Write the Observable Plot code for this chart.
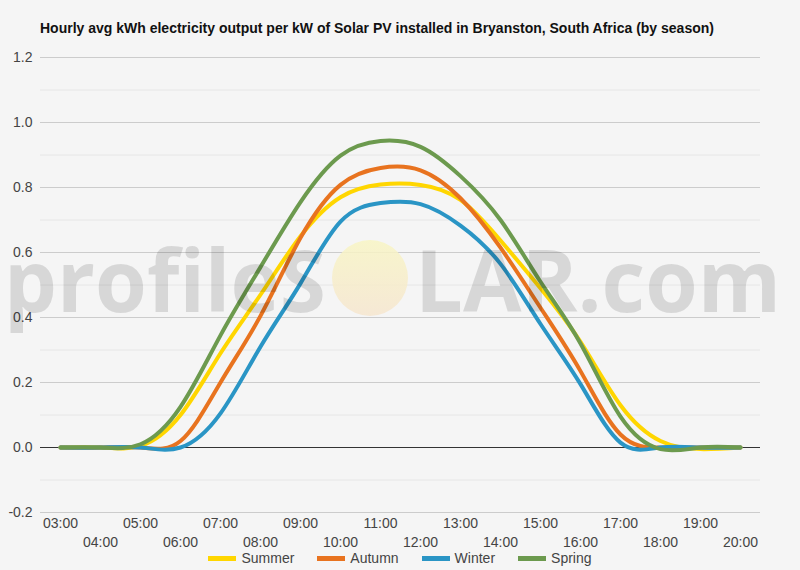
<!DOCTYPE html>
<html>
<head>
<meta charset="utf-8">
<script src="https://cdn.jsdelivr.net/npm/d3@7"></script>
<script src="https://cdn.jsdelivr.net/npm/@observablehq/plot@0.6"></script>
<style>
  html, body { margin: 0; padding: 0; background: #f5f5f5; }
  #wrap { position: relative; width: 800px; height: 570px; background: #f5f5f5; overflow: hidden; font-family: "Liberation Sans", Arial, sans-serif; }
  #title { position: absolute; left: 40px; top: 20px; font-size: 14px; line-height: 16px; font-weight: bold; color: #111; white-space: nowrap; }
  #legend { position: absolute; left: 0; width: 800px; top: 550px; display: flex; justify-content: center; gap: 23px; font-size: 14px; line-height: 16px; color: #444; }
  .item { display: flex; align-items: center; gap: 5px; }
  .sw { width: 28px; height: 5px; }
  #chart { position: absolute; left: 0; top: 0; }
  #wm { position: absolute; left: 0; top: 0; pointer-events: none; }
</style>
</head>
<body>
<div id="wrap">
  <div id="chart"></div>
  <svg id="wm" width="800" height="570"></svg>
  <div id="title"></div>
  <div id="legend"></div>
</div>
<script>
const titleText = "Hourly avg kWh electricity output per kW of Solar PV installed in Bryanston, South Africa (by season)";
const hours = ["03:00","04:00","05:00","06:00","07:00","08:00","09:00","10:00","11:00","12:00","13:00","14:00","15:00","16:00","17:00","18:00","19:00","20:00"];
const seasons = ["Summer","Autumn","Winter","Spring"];
const colors = ["#ffd600","#e8731f","#2a95c5","#6c9a4e"];
const summer = [0, 0, 0.005, 0.10, 0.29, 0.47, 0.65, 0.77, 0.809, 0.808, 0.762, 0.637, 0.49, 0.325, 0.13, 0.02, -0.005, 0];
const autumn = [0, 0, 0, 0.02, 0.20, 0.405, 0.645, 0.808, 0.86, 0.853, 0.767, 0.615, 0.43, 0.235, 0.04, 0, 0, 0];
const winter = [0, 0, 0, 0, 0.105, 0.31, 0.505, 0.695, 0.752, 0.749, 0.683, 0.565, 0.38, 0.195, 0.015, 0, 0, 0];
const spring = [0, 0, 0.01, 0.125, 0.345, 0.555, 0.755, 0.898, 0.943, 0.925, 0.835, 0.70, 0.51, 0.32, 0.095, -0.005, 0, 0];
const yMajor = [-0.2, 0.2, 0.4, 0.6, 0.8, 1.0, 1.2];
const yMinor = [-0.1, 0.1, 0.3, 0.5, 0.7, 0.9, 1.1];
const yLabels = [-0.2, 0, 0.2, 0.4, 0.6, 0.8, 1.0, 1.2];
const oddHours = hours.filter((h, i) => i % 2 === 0);
const evenHours = hours.filter((h, i) => i % 2 === 1);

const seriesValues = [summer, autumn, winter, spring];
const data = seasons.flatMap((s, k) => hours.map((h, i) => ({season: s, hour: h, value: seriesValues[k][i]})));

const chart = Plot.plot({
  width: 800,
  height: 570,
  marginTop: 57,
  marginBottom: 58,
  marginLeft: 40,
  marginRight: 40,
  style: {background: "transparent", fontFamily: "'Liberation Sans', Arial, sans-serif", fontSize: "14px", color: "#444"},
  x: {type: "point", domain: hours, padding: 0.5},
  y: {domain: [-0.2, 1.2]},
  color: {domain: seasons, range: colors},
  marks: [
    Plot.gridY(yMinor, {stroke: "#e6e6e6", strokeOpacity: 1}),
    Plot.gridY(yMajor, {stroke: "#cccccc", strokeOpacity: 1}),
    Plot.ruleY([0], {stroke: "#333333"}),
    Plot.line(data, {x: "hour", y: "value", stroke: "season", z: "season", strokeWidth: 4, curve: "natural"}),
    Plot.axisY(yLabels, {tickSize: 0, tickPadding: 8, tickFormat: d => d.toFixed(1), label: null, fill: "#444"}),
    Plot.axisX(oddHours, {tickSize: 0, tickPadding: 6, label: null, fill: "#444"}),
    Plot.axisX(evenHours, {tickSize: 0, tickPadding: 25, label: null, fill: "#444"})
  ]
});
document.getElementById("chart").appendChild(chart);
document.getElementById("title").textContent = titleText;

const legend = document.getElementById("legend");
seasons.forEach((s, i) => {
  const it = document.createElement("div");
  it.className = "item";
  const sw = document.createElement("div");
  sw.className = "sw";
  sw.style.background = colors[i];
  const lb = document.createElement("span");
  lb.textContent = s;
  it.appendChild(sw);
  it.appendChild(lb);
  legend.appendChild(it);
});

// watermark
const wm = d3.select("#wm");
const defs = wm.append("defs");
const grad = defs.append("linearGradient").attr("id", "sun").attr("x1", 0).attr("y1", 0).attr("x2", 0).attr("y2", 1);
grad.append("stop").attr("offset", "0%").attr("stop-color", "#f8f5c4");
grad.append("stop").attr("offset", "100%").attr("stop-color", "#f6e6cf");
const wmFont = "'Open Sans', 'Noto Sans', sans-serif";
wm.append("text").attr("x", 4).attr("y", 312).attr("font-family", wmFont).attr("font-weight", 700)
  .attr("font-size", 86).attr("fill", "#000").attr("fill-opacity", 0.12)
  .attr("textLength", 322).attr("lengthAdjust", "spacingAndGlyphs").text("profileS");
wm.append("circle").attr("cx", 370).attr("cy", 278).attr("r", 38).attr("fill", "url(#sun)").attr("fill-opacity", 0.85);
wm.append("text").attr("x", 415).attr("y", 312).attr("font-family", wmFont).attr("font-weight", 700)
  .attr("font-size", 86).attr("fill", "#000").attr("fill-opacity", 0.12)
  .attr("textLength", 366).attr("lengthAdjust", "spacingAndGlyphs").text("LAR.com");
</script>
</body>
</html>
